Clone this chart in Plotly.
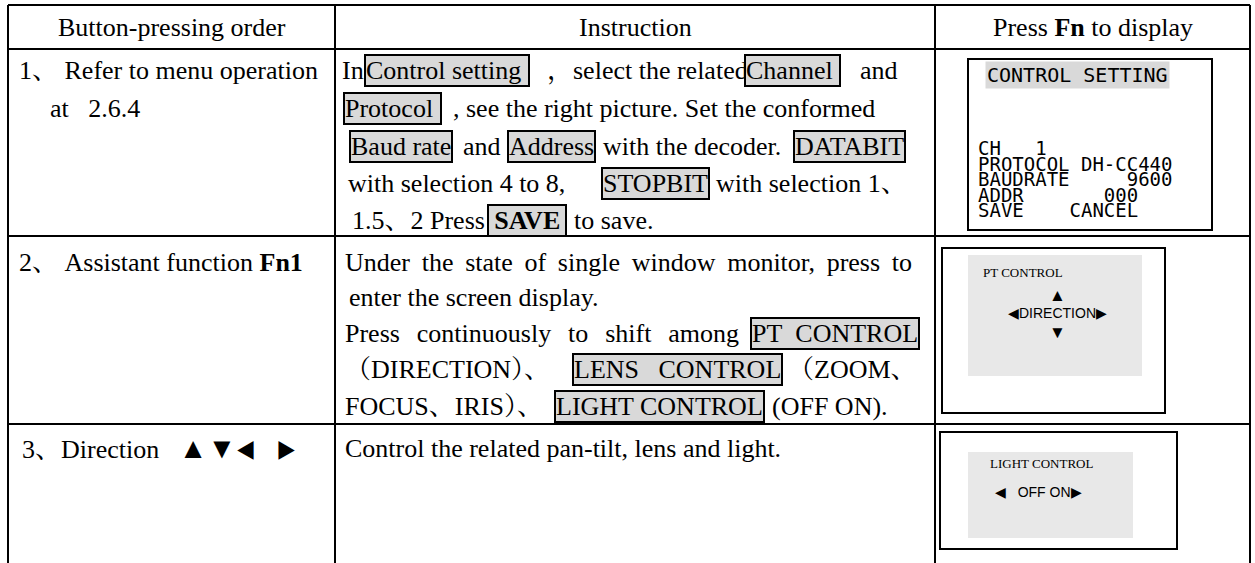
import plotly.graph_objects as go

# ---------------- data (text content) ----------------
header_labels = ["Button-pressing order", "Instruction", "Press <b>Fn</b> to display"]

step_labels = [
    "1、 Refer to menu operation",
    "at\u00a0\u00a0 2.6.4",
    "2、 Assistant function <b>Fn1</b>",
    "3、Direction\u00a0\u00a0 <span style='font-size:29px'>▲▼</span>"
    "<span style='font-size:20px'>◀\u00a0\u00a0\u00a0 ▶</span>",
]

# instruction lines: (text, highlighted?)
row1_lines = [
    [("In", 0), ("Control setting\u00a0", 1), ("，select the related", 0), ("Channel\u00a0", 1), ("and", 0)],
    [("Protocol\u00a0", 1), (", see the right picture. Set the conformed", 0)],
    [("Baud rate", 1), ("and", 0), ("Address", 1), ("with the decoder.", 0), ("DATABIT", 1)],
    [("with selection 4 to 8,", 0), ("STOPBIT", 1), ("with selection 1、", 0)],
    [("1.5、2 Press", 0), ("\u2009<b>SAVE</b>\u2009", 1), ("to save.", 0)],
]
row2_lines = [
    [("Under the state of single window monitor, press to", 0)],
    [("enter the screen display.", 0)],
    [("Press continuously to shift among", 0), ("PT\u00a0 CONTROL", 1)],
    [("（DIRECTION）、", 0), ("LENS\u00a0\u00a0 CONTROL", 1), ("（ZOOM、", 0)],
    [("FOCUS、IRIS）、", 0), ("LIGHT CONTROL", 1), ("(OFF ON).", 0)],
]
row3_lines = [
    [("Control the related pan-tilt, lens and light.", 0)],
]

screen1_title = "CONTROL SETTING"
screen1_lines = ["CH\u00a0\u00a0 1", "PROTOCOL DH-CC440", "BAUDRATE\u00a0\u00a0\u00a0\u00a0 9600",
                 "ADDR\u00a0\u00a0\u00a0\u00a0\u00a0\u00a0 000", "SAVE\u00a0\u00a0\u00a0 CANCEL"]
screen2_texts = ["PT CONTROL", "▲", "◀DIRECTION▶", "▼"]
screen3_texts = ["LIGHT CONTROL", "◀\u00a0\u00a0 OFF ON▶"]

# ---------------- layout geometry ----------------
W, H = 1255, 563
col_x = [8, 335, 935, 1250]
row_y = [5, 49, 236, 424]
serif = "Liberation Serif, Times New Roman, Noto Serif CJK SC, Noto Sans CJK SC, serif"
mono = "DejaVu Sans Mono, monospace"
sans = "Liberation Sans, Arial, sans-serif"
FS = 26
HL_BG = "#d9d9d9"

row1_x = [[340, 364, 545, 744, 858], [343, 451], [349, 461, 507, 601, 793], [346, 601, 714], [350, 487, 572]]
row1_y = [70, 108, 146, 183, 220]
row2_x = [[343], [347], [343, 750], [343, 572, 786], [343, 554, 770]]
row2_y = [262, 297, 333, 369, 406]
row3_x = [[343]]
row3_y = [448]
# extra thin spaces per word gap, to imitate justified lines
row2_just = [1, 0, 2, 0, 0]

def justify(txt, k):
    return txt.replace(" ", " " + "\u2009" * k) if k else txt

fig = go.Figure()
shapes = []
ann = []

# table lines
for x in col_x:
    shapes.append(dict(type="line", x0=x, x1=x, y0=row_y[0], y1=H + 5,
                       line=dict(color="black", width=2)))
for y in row_y:
    shapes.append(dict(type="line", x0=col_x[0], x1=col_x[-1], y0=y, y1=y,
                       line=dict(color="black", width=2)))

# header
hx = [(col_x[i] + col_x[i + 1]) / 2 for i in range(3)]
for lab, x in zip(header_labels, hx):
    ann.append(dict(x=x, y=27, text=lab, xanchor="center", yanchor="middle",
                    font=dict(family=serif, size=FS, color="black")))

# step labels
step_pos = [(17, 70), (48, 108), (17, 262), (20, 448)]
for lab, (x, y) in zip(step_labels, step_pos):
    ann.append(dict(x=x, y=y, text=lab, xanchor="left", yanchor="middle",
                    font=dict(family=serif, size=FS, color="black")))

def add_lines(lines, xs, ys, just=None):
    for li, (segs, sx, y) in enumerate(zip(lines, xs, ys)):
        k = just[li] if just else 0
        for (txt, hl), x in zip(segs, sx):
            t = txt if hl else justify(txt, k)
            d = dict(x=x, y=y, text=t, xanchor="left", yanchor="middle",
                     font=dict(family=serif, size=FS, color="black"))
            if hl:
                d.update(bgcolor=HL_BG, bordercolor="black", borderwidth=2, borderpad=0)
            ann.append(d)

add_lines(row1_lines, row1_x, row1_y)
add_lines(row2_lines, row2_x, row2_y, row2_just)
add_lines(row3_lines, row3_x, row3_y)

# screen 1
shapes.append(dict(type="rect", x0=968, x1=1212, y0=59, y1=230,
                   line=dict(color="black", width=2), fillcolor="white"))
ann.append(dict(x=985, y=75, text=screen1_title, xanchor="left", yanchor="middle",
                bgcolor=HL_BG, borderpad=1,
                font=dict(family=mono, size=20, color="black")))
for i, t in enumerate(screen1_lines):
    ann.append(dict(x=976, y=148 + i * 15.5, text=t, xanchor="left", yanchor="middle",
                    font=dict(family=mono, size=19, color="black")))

# screen 2
shapes.append(dict(type="rect", x0=942, x1=1165, y0=248, y1=413,
                   line=dict(color="black", width=2), fillcolor="white"))
shapes.append(dict(type="rect", x0=968, x1=1142, y0=255, y1=376,
                   line=dict(width=0), fillcolor="#e8e8e8"))
ann.append(dict(x=981, y=272, text=screen2_texts[0], xanchor="left", yanchor="middle",
                font=dict(family=serif, size=13, color="black")))
for t, y, s in zip(screen2_texts[1:], [295, 313, 332], [17, 14, 17]):
    ann.append(dict(x=1057, y=y, text=t, xanchor="center", yanchor="middle",
                    font=dict(family=sans, size=s, color="black")))

# screen 3
shapes.append(dict(type="rect", x0=940, x1=1177, y0=432, y1=549,
                   line=dict(color="black", width=2), fillcolor="white"))
shapes.append(dict(type="rect", x0=968, x1=1133, y0=452, y1=538,
                   line=dict(width=0), fillcolor="#e8e8e8"))
ann.append(dict(x=988, y=463, text=screen3_texts[0], xanchor="left", yanchor="middle",
                font=dict(family=serif, size=13, color="black")))
ann.append(dict(x=993, y=492, text=screen3_texts[1], xanchor="left", yanchor="middle",
                font=dict(family=sans, size=14, color="black")))

for a in ann:
    a.update(xref="x", yref="y", showarrow=False)

fig.update_layout(
    width=W, height=H, margin=dict(l=0, r=0, t=0, b=0),
    paper_bgcolor="white", plot_bgcolor="white",
    xaxis=dict(range=[0, W], visible=False, fixedrange=True),
    yaxis=dict(range=[H, 0], visible=False, fixedrange=True),
    shapes=shapes, annotations=ann, showlegend=False,
)
fig.write_html("out.html", config={"displayModeBar": False},
               post_script="document.body.style.margin='0';document.body.style.overflow='hidden';")
